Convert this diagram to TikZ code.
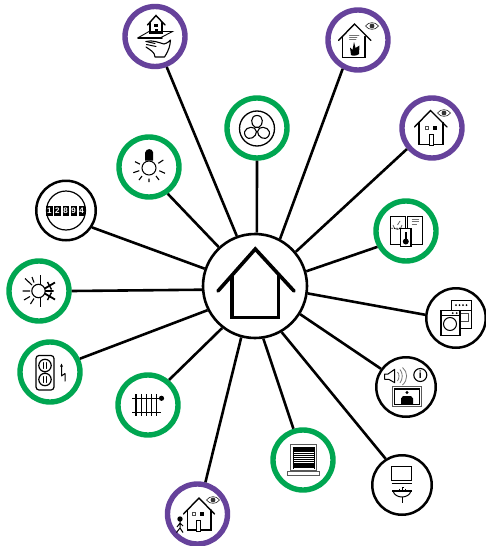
\documentclass[tikz,border=0pt]{standalone}
\usepackage{fontspec}
\setmainfont{Liberation Sans}
\definecolor{pur}{HTML}{66429B}
\definecolor{grn}{HTML}{00A651}
\tikzset{
 x=1pt,y=-1pt,
 ring/.style={circle,draw,inner sep=0pt,fill=white},
 purplering/.style={ring,draw=pur,line width=5.4pt,minimum size=60pt},
 greenring/.style={ring,draw=grn,line width=5.4pt,minimum size=60pt},
 blackring/.style={ring,draw=black,line width=2.5pt,minimum size=59.5pt},
 hub/.style={ring,draw=black,line width=2.6pt,minimum size=104pt},
 link/.style={line width=2.6pt,black},
 ic/.style={line width=1.2pt,black,line cap=round,line join=miter},
 grey ic/.style={line width=.8pt,black!55},
 digit/.style={fill=black,text=white,font=\fontsize{8}{8}\bfseries\selectfont,inner sep=0pt,minimum width=6.4pt,minimum height=9.5pt}
}
\newcommand{\eyeicon}[2]{%
 \begin{scope}[shift={(#1,#2)}]
  \draw[line width=.7pt,black!75] (-6.5,0) .. controls (-3,-4.5) and (3,-4.5) .. (6.5,0) .. controls (3,4.5) and (-3,4.5) .. (-6.5,0)--cycle;
  \fill[black!80] (0,0) circle (2.4);
 \end{scope}}
\newcommand{\windowsdoor}[2]{%
 \begin{scope}[shift={(#1,#2)}]
  \draw[line width=.7pt,black!70] (-5.5,-1.7) rectangle (-2.2,1.7);
  \fill (2,-1.9) rectangle (5.8,1.9);
  \draw[line width=.8pt,fill=white] (-1.5,6.3) rectangle (2.6,17.5);
  \draw[line width=1.4pt] (-1.5,6.3) -- (-1.5,17.5);
 \end{scope}}
\begin{document}
\begin{tikzpicture}
\useasboundingbox (0,0) rectangle (486,546);
\node[hub] (hub) at (255,286) {};
\node[purplering] (hand) at (155,36.5) {};
\node[purplering] (fire) at (358,40) {};
\node[purplering] (seen) at (432,128) {};
\node[greenring] (fan) at (257,128) {};
\node[greenring] (bulb) at (149,167) {};
\node[blackring] (meter) at (66,210.5) {};
\node[greenring] (sun) at (39,291) {};
\node[greenring] (outlet) at (50,372) {};
\node[greenring] (rad) at (148,405) {};
\node[purplering] (walker) at (197.5,514) {};
\node[greenring] (blind) at (303,460) {};
\node[blackring] (sink) at (402,485) {};
\node[blackring] (speak) at (406,387) {};
\node[blackring] (appl) at (456,318) {};
\node[greenring] (thermo) at (406,231) {};
\foreach \n/\h/\e in {hand/110.4/-69,fire/62.3/242.2,seen/40.7/220,fan/88/-90,bulb/133.5/-55,meter/161.2/-33,sun/184.4/0,outlet/207.9/24.5,rad/232.5/50,walker/255.3/76.4,blind/-81/107,sink/-60/122.2,speak/-32/144.2,appl/-8/174.3,thermo/16.6/209.7}
  \draw[link] (hub.\h) -- (\n.\e);
% central house
\draw[line width=3.6pt,line cap=round,line join=miter] (218,291) -- (255.3,249) -- (294,291);
\draw[line width=3.6pt,line join=miter] (232,275) -- (232,317.5) -- (278.5,317.5) -- (278.5,275);
% hand icon
\begin{scope}[ic]
 \draw[line width=1.4pt] (147.5,25) -- (156,15.5) -- (165,25);
 \draw[line width=1.4pt] (150,22.5) -- (150,33) -- (162,33) -- (162,22.5);
 \fill (154,23.5) rectangle (158,27);
 \fill (154.5,29) rectangle (157.5,33);
 \draw[line width=.9pt] (138.5,37.5) -- (149,31.5) -- (172.5,31.5) -- (161,37.5);
 \draw[line width=1.6pt] (138,37.8) -- (162,37.8);
 \draw[line width=1.1pt,line join=round] (146,41.5) .. controls (152,39.5) and (160,43) .. (164,44) .. controls (168,43) and (170,40.5) .. (170.5,40) .. controls (170,46) and (169,50) .. (164.5,57) -- (155,57) .. controls (155,52) and (150,50) .. (146,47);
 \draw[line width=1pt] (146,41.5) -- (155,43.5) (146.5,44.5) -- (156,46.5);
\end{scope}
% fire house
\begin{scope}[ic]
 \draw[line width=1.4pt] (338.5,40.5) -- (354.5,24) -- (371,40.5);
 \draw[line width=1.4pt] (342.5,36.5) -- (342.5,57.5) -- (365,57.5) -- (365,36.5);
 \draw[grey ic] (349.5,35) -- (359,35) (349.5,37) -- (357,37) (349.5,39) -- (356,39);
 \fill (351,55) -- (350,47.5) -- (352.5,50) -- (354,42) -- (355.5,48) -- (359.5,45.5) -- (359,54) .. controls (357,56) and (352,56) .. (351,55) -- cycle;
\end{scope}
\eyeicon{372}{26}
% house with eye
\begin{scope}[ic]
 \draw[line width=1.4pt] (414.5,127) -- (430.5,110.5) -- (447,127);
 \draw[line width=1.4pt] (419,122.5) -- (419,144.5) -- (443,144.5) -- (443,122.5);
\end{scope}
\windowsdoor{431}{128}
\eyeicon{444}{113}
% fan
\draw[line width=1.3pt] (257,128.5) circle (17.5);
\begin{scope}[shift={(257,129)},line width=1.1pt]
 \foreach \a in {90,210,330}{
  \draw[rotate=\a] (1.8,-2) .. controls (4,-6.5) and (13.5,-7) .. (13.5,0) .. controls (13.5,7) and (4,6.5) .. (1.8,2) -- cycle;
 }
\end{scope}
% bulb
\draw[line width=1pt] (149,168) circle (7);
\fill (145.2,160.5) -- (145.2,152.5) .. controls (146,148) and (152.5,148) .. (153.2,152.5) -- (153.2,160.5) -- cycle;
\draw[line width=1.1pt]
 (135,161.7) -- (140,164.2) (133.3,172.7) -- (139.3,170.7)
 (158.3,163.3) -- (163.3,160) (159.3,170.7) -- (165,173.3)
 (139,180) -- (142,176) (159,180) -- (156,176) (149,178.5) -- (149,182);
% meter
\draw[line width=1.2pt] (66,210.5) circle (19.5);
\foreach \d/\x in {1/49.3,2/57.3,8/65.7,9/73.7,4/81.7}
 \node[digit] (d\d) at (\x,211) {\d};
% sun
\begin{scope}[shift={(38.5,291)}]
 \draw[line width=1.7pt] (2,-16) -- (2,16);
 \draw[line width=1.8pt] (2,0) -- (16.5,-8.5) (2,0) -- (16.5,8.5) (2,0) -- (15,0);
 \draw[line width=1.4pt] (9,-9) -- (13,-1.5) (9,9) -- (13,1.5);
 \draw[line width=1.1pt,fill=white] (0,0) circle (6.7);
 \draw[line width=1.1pt] (-16,0) -- (-8.5,0) (-13.5,-12.5) -- (-6.5,-6) (-14.5,9) -- (-8.5,5.5) (-6.5,-14) -- (-4.5,-8.5) (-8,13) -- (-4.5,7.5);
\end{scope}
% outlet
\begin{scope}[ic]
 \draw[line width=1.2pt,rounded corners=3pt] (36,355.5) rectangle (54,390);
 \draw[line width=1.2pt] (45,365.5) circle (6.2) (45,379.5) circle (6.2);
 \draw[line width=1pt] (43.5,362.5) -- (43.5,368.5) (46.5,362.5) -- (46.5,368.5) (43.5,376.5) -- (43.5,382.5) (46.5,376.5) -- (46.5,382.5);
 \draw[line width=1pt,line join=round] (61.5,366) -- (61.5,376) -- (65,373.5) -- (65,381);
 \fill (60,366.5) -- (61.5,363.5) -- (63,366.5) -- cycle;
\end{scope}
% radiator
\begin{scope}[line width=1.1pt]
 \draw (132,398.3) -- (160.5,398.3) (132,412.7) -- (160.5,412.7);
 \foreach \x in {136,141.7,146.7,151.7,156.7} \draw (\x,394) -- (\x,415.7);
 \fill (161.5,398.3) circle (2.6);
\end{scope}
% walker
\begin{scope}[ic]
 \draw[line width=1.4pt] (183.5,514) -- (199,498) -- (214.5,514);
 \draw[line width=1.4pt] (187.5,510) -- (187.5,530) -- (197,530) (201,530) -- (211,530) -- (211,510);
\end{scope}
\windowsdoor{198}{514}
\eyeicon{213}{500}
\fill (180,519) circle (2.7);
\draw[line width=1pt] (180,520) -- (180,528) -- (176.5,532.5) (180,528) -- (183,532.5) (180,523) -- (177,527) (180,523) -- (183,526);
% blinds
\draw[line width=1.1pt,black!65] (290.3,444.5) rectangle (316.7,471);
\draw[line width=.9pt,black!65] (287.5,471.7) rectangle (319.2,475.7);
\foreach \y in {448,449.9,...,468.5} \draw[line width=1.25pt] (292.7,\y) -- (314.2,\y);
\draw[line width=.7pt] (293,447) -- (293,469) (314,447) -- (314,469);
% sink
\begin{scope}[line width=1pt]
 \draw (391.8,466.7) rectangle (411.8,480.7);
 \draw[line width=1.2pt] (391.5,483.5) -- (412,483.5);
 \draw[line width=1.2pt] (392,491) -- (412,491);
 \draw (393,491) .. controls (394,495) and (398,497) .. (402,497) .. controls (406,497) and (410,495) .. (411,491);
 \draw (402,497) -- (402,503);
 \draw (402,491) -- (402,487) -- (404,487) (399,488.5) -- (399,491) (405,488.5) -- (405,491);
\end{scope}
% speaker
\begin{scope}[line width=.8pt]
 \draw[line width=1pt,line join=round] (384.7,374) -- (388,374) -- (394.7,369.3) -- (394.7,382.7) -- (388.7,379.3) -- (384.7,379.3) -- cycle;
 \draw[black!55,line width=.8pt] (397.5,372) .. controls (399.5,374) and (399.5,378) .. (397.5,381)
   (400,369.5) .. controls (403,373) and (403,379) .. (400,383)
   (402.5,367.5) .. controls (408,372) and (408,380) .. (402.5,385);
 \draw[line width=1.1pt] (420.3,375) circle (6.5);
 \node[font=\fontsize{10.5}{10.5}\bfseries\selectfont,inner sep=0pt] (info) at (420.3,375) {i};
 \draw[line width=.9pt,black!65] (392.3,386.7) rectangle (421.7,406.5);
 \draw[line width=1.2pt] (394.5,389) rectangle (419.5,404.3);
 \fill (407,392.5) circle (1.7);
 \fill (401,404.3) -- (401,398.5) -- (403,396) -- (411,396) -- (413,398.5) -- (413,404.3) -- cycle;
\end{scope}
% appliances
\begin{scope}[line width=1pt]
 \draw[fill=white,line width=1.1pt] (451.7,300.5) rectangle (471.7,328.3);
 \draw (451.7,310) -- (471.7,310);
 \foreach \x in {456,459.5,463,466.5} \fill (\x,305.2) circle (1);
 \draw[black!70] (460,313.3) rectangle (468.3,321.7);
 \draw[fill=white,line width=1.1pt] (441,310.7) rectangle (460,335.7);
 \draw (441,315.5) -- (460,315.5);
 \foreach \x in {452.7,456.7} \fill (\x,313.2) circle (1);
 \draw (450,324) circle (6.5);
\end{scope}
% thermo panels
\begin{scope}[line width=1pt]
 \draw (390,216.7) rectangle (405,244.3);
 \draw (407.3,216.7) rectangle (422.3,244.3);
 \draw[black!60,line width=.8pt] (393,225) arc (180:0:4.5);
 \draw[black!60,line width=.8pt] (397.5,225) -- (400,221);
 \foreach \x in {392,394.5,397,399.5} \fill (\x,228.3) circle (.7);
 \draw[grey ic] (411.5,219) -- (418.5,219) (411.5,221.5) -- (418.5,221.5) (411.5,224) -- (417,224);
 \draw[fill=white,line width=1.1pt] (400.7,228.5) rectangle (411,246.5);
 \fill (405.8,241.5) circle (3);
 \draw[line width=1.5pt] (405.8,232) -- (405.8,240);
\end{scope}
\end{tikzpicture}
\end{document}
